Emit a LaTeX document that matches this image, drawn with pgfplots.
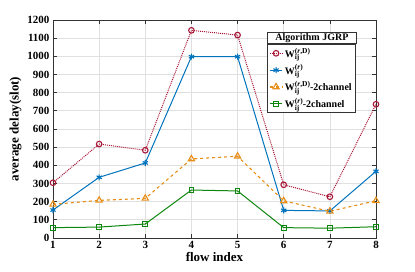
\documentclass[border=0pt]{standalone}
\usepackage{fontspec}
\setmainfont{Liberation Serif}
\usepackage{pgfplots}
\pgfplotsset{compat=1.18}
\usetikzlibrary{calc}
\definecolor{cR}{rgb}{0.66,0.09,0.22}
\definecolor{cB}{rgb}{0.0,0.45,0.74}
\definecolor{cO}{rgb}{0.91,0.56,0.10}
\definecolor{cG}{rgb}{0.05,0.53,0.05}
\newcommand{\W}[2]{W\rlap{\raisebox{-0.6ex}{\fontsize{7.5}{7.5}\selectfont #1}}\raisebox{0.9ex}{\fontsize{7.5}{7.5}\selectfont #2}}
\begin{document}
\begin{tikzpicture}
\useasboundingbox (0,0) rectangle (415pt,272pt);
\begin{axis}[
  at={(53pt,34pt)}, anchor=south west,
  scale only axis, width=323pt, height=218pt,
  xmin=1, xmax=8, ymin=0, ymax=1200,
  xtick={1,...,8}, ytick={0,100,...,1200},
  grid=major, major grid style={draw=black!12, line width=0.7pt},
  axis line style={draw=black!80, line width=0.8pt},
  tick style={draw=black!80, line width=0.7pt},
  major tick length=4pt,
  tick align=inside,
  /pgf/number format/assume math mode=true,
  /pgf/number format/1000 sep={},
  ticklabel style={font=\bfseries\fontsize{11}{11}\selectfont},
  xlabel={flow index}, ylabel={average delay(slot)},
  label style={font=\bfseries\fontsize{13}{13}\selectfont},
  xlabel style={yshift=3pt},
  ylabel style={yshift=-1pt},
  legend cell align=left,
  legend style={name=leg, at={(0.937,0.890)}, anchor=north east,
    draw=black!80, line width=0.8pt, fill=white,
    font=\bfseries\fontsize{10}{10}\selectfont,
    inner sep=1.5pt, row sep=2pt},
  legend image code/.code={\draw[mark repeat=2,mark phase=2] plot coordinates {(0cm,0cm) (0.22cm,0cm) (0.44cm,0cm)};},
]
\addplot[cR, line width=1pt, densely dotted, mark=o, mark size=2.8pt, mark options={solid, line width=1.1pt}]
  coordinates {(1,304) (2,517) (3,483) (4,1143) (5,1117) (6,293) (7,227) (8,736)};
\addlegendentry{\W{ij}{(\textit{r},D)}}
\addplot[cB, line width=1pt, mark=asterisk, mark size=3pt, mark options={solid, line width=1.1pt}]
  coordinates {(1,154) (2,334) (3,413) (4,998) (5,998) (6,152) (7,149) (8,367)};
\addlegendentry{\W{ij}{(\textit{r})}}
\addplot[cO, line width=1.1pt, dashed, mark=triangle, mark size=3.6pt, mark options={solid, line width=1.1pt}]
  coordinates {(1,185) (2,207) (3,218) (4,435) (5,450) (6,204) (7,147) (8,205)};
\addlegendentry{\W{ij}{(\textit{r},D)}-2channel}
\addplot[cG, line width=1pt, mark=square, mark size=2.4pt, mark options={solid, line width=1pt}]
  coordinates {(1,57) (2,60) (3,77) (4,264) (5,259) (6,57) (7,54) (8,62)};
\addlegendentry{\W{ij}{(\textit{r})}-2channel}
\end{axis}
\path let \p1=(leg.north west), \p2=(leg.north east) in
  node[draw=black!80, line width=0.8pt, fill=white, anchor=south west,
       minimum width=\x2-\x1, minimum height=11pt, inner sep=1pt,
       font=\bfseries\fontsize{10}{10}\selectfont] at (\p1) {Algorithm JGRP};
\end{tikzpicture}
\end{document}
